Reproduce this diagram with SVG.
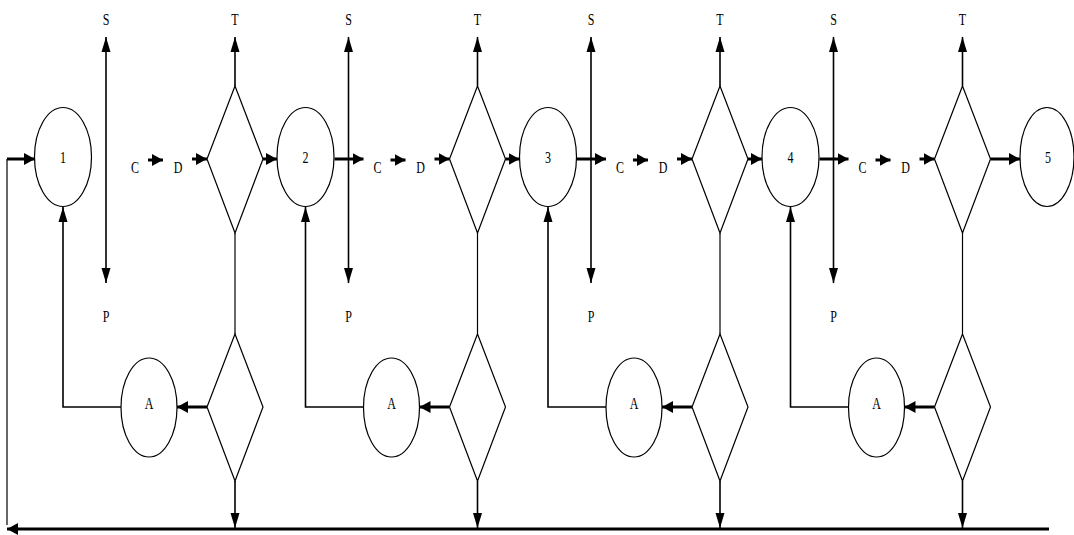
<svg xmlns="http://www.w3.org/2000/svg" width="1074" height="535" viewBox="0 0 1074 535">
<style>
.sh{fill:#fff;stroke:#000;stroke-width:1.2}
.ln{fill:none;stroke:#000;stroke-width:1.2}
.sl{fill:none;stroke:#000;stroke-width:1.6}
.tk{fill:none;stroke:#000;stroke-width:3}
.lb{font-family:"Liberation Serif","Times New Roman",serif;font-size:16px;text-anchor:middle;fill:#000}
</style>
<defs>
<marker id="big" markerUnits="userSpaceOnUse" markerWidth="15" markerHeight="10" refX="15" refY="5" orient="auto-start-reverse"><path d="M0,0.5 L15,5 L0,9.5 z" fill="#000"/></marker>
<marker id="sm" markerUnits="userSpaceOnUse" markerWidth="11" markerHeight="13" refX="11" refY="6.5" orient="auto"><path d="M0,0.5 L11,6.5 L0,12.5 z" fill="#000"/></marker>
</defs>
<rect width="1074" height="535" fill="#fff"/>
<g id="connectors">
<polyline class="ln" points="7,525 7,159"/>
<line class="tk" x1="7" y1="159" x2="35" y2="159" marker-end="url(#sm)"/>
<line class="tk" x1="1049" y1="529" x2="7" y2="529" marker-end="url(#sm)"/>
<line class="sl" x1="106" y1="283" x2="106" y2="37" marker-start="url(#big)" marker-end="url(#big)"/>
<line class="tk" x1="148" y1="160" x2="163" y2="160" marker-end="url(#sm)"/>
<line class="tk" x1="192" y1="159" x2="207" y2="159" marker-end="url(#sm)"/>
<line class="sl" x1="235" y1="86" x2="235" y2="37" marker-end="url(#big)"/>
<line class="ln" x1="235" y1="233" x2="235" y2="334"/>
<line class="tk" x1="207" y1="407" x2="177" y2="407" marker-end="url(#sm)"/>
<polyline class="sl" points="121,407 63,407 63,207" marker-end="url(#big)"/>
<line class="sl" x1="235" y1="481" x2="235" y2="528" marker-end="url(#big)"/>
<line class="tk" x1="263" y1="159" x2="277" y2="159" marker-end="url(#sm)"/>
<line class="tk" x1="334.5" y1="159" x2="363.5" y2="159" marker-end="url(#sm)"/>
<line class="sl" x1="348.5" y1="283" x2="348.5" y2="37" marker-start="url(#big)" marker-end="url(#big)"/>
<line class="tk" x1="390.5" y1="160" x2="405.5" y2="160" marker-end="url(#sm)"/>
<line class="tk" x1="434.5" y1="159" x2="449.5" y2="159" marker-end="url(#sm)"/>
<line class="sl" x1="477.5" y1="86" x2="477.5" y2="37" marker-end="url(#big)"/>
<line class="ln" x1="477.5" y1="233" x2="477.5" y2="334"/>
<line class="tk" x1="449.5" y1="407" x2="419.5" y2="407" marker-end="url(#sm)"/>
<polyline class="sl" points="363.5,407 305.5,407 305.5,207" marker-end="url(#big)"/>
<line class="sl" x1="477.5" y1="481" x2="477.5" y2="528" marker-end="url(#big)"/>
<line class="tk" x1="505.5" y1="159" x2="519.5" y2="159" marker-end="url(#sm)"/>
<line class="tk" x1="577" y1="159" x2="606" y2="159" marker-end="url(#sm)"/>
<line class="sl" x1="591" y1="283" x2="591" y2="37" marker-start="url(#big)" marker-end="url(#big)"/>
<line class="tk" x1="633" y1="160" x2="648" y2="160" marker-end="url(#sm)"/>
<line class="tk" x1="677" y1="159" x2="692" y2="159" marker-end="url(#sm)"/>
<line class="sl" x1="720" y1="86" x2="720" y2="37" marker-end="url(#big)"/>
<line class="ln" x1="720" y1="233" x2="720" y2="334"/>
<line class="tk" x1="692" y1="407" x2="662" y2="407" marker-end="url(#sm)"/>
<polyline class="sl" points="606,407 548,407 548,207" marker-end="url(#big)"/>
<line class="sl" x1="720" y1="481" x2="720" y2="528" marker-end="url(#big)"/>
<line class="tk" x1="748" y1="159" x2="762" y2="159" marker-end="url(#sm)"/>
<line class="tk" x1="819.5" y1="159" x2="848.5" y2="159" marker-end="url(#sm)"/>
<line class="sl" x1="833.5" y1="283" x2="833.5" y2="37" marker-start="url(#big)" marker-end="url(#big)"/>
<line class="tk" x1="875.5" y1="160" x2="890.5" y2="160" marker-end="url(#sm)"/>
<line class="tk" x1="919.5" y1="159" x2="934.5" y2="159" marker-end="url(#sm)"/>
<line class="sl" x1="962.5" y1="86" x2="962.5" y2="37" marker-end="url(#big)"/>
<line class="ln" x1="962.5" y1="233" x2="962.5" y2="334"/>
<line class="tk" x1="934.5" y1="407" x2="904.5" y2="407" marker-end="url(#sm)"/>
<polyline class="sl" points="848.5,407 790.5,407 790.5,207" marker-end="url(#big)"/>
<line class="sl" x1="962.5" y1="481" x2="962.5" y2="528" marker-end="url(#big)"/>
<line class="tk" x1="990.5" y1="159" x2="1020" y2="159" marker-end="url(#sm)"/>
</g>
<g id="n1"><ellipse class="sh" cx="63" cy="157" rx="28.5" ry="49.5"/><text class="lb" transform="translate(63,163) scale(0.75,1)">1</text></g>
<g id="n2"><ellipse class="sh" cx="305.5" cy="157" rx="28.5" ry="49.5"/><text class="lb" transform="translate(305.5,163) scale(0.75,1)">2</text></g>
<g id="n3"><ellipse class="sh" cx="548" cy="157" rx="28.5" ry="49.5"/><text class="lb" transform="translate(548,163) scale(0.75,1)">3</text></g>
<g id="n4"><ellipse class="sh" cx="790.5" cy="157" rx="28.5" ry="49.5"/><text class="lb" transform="translate(790.5,163) scale(0.75,1)">4</text></g>
<g id="n5"><ellipse class="sh" cx="1047" cy="157" rx="27" ry="49.5"/><text class="lb" transform="translate(1048,163) scale(0.75,1)">5</text></g>
<g id="d1"><polygon class="sh" points="235,86 263,159 235,233 207,159"/></g>
<g id="d2"><polygon class="sh" points="477.5,86 505.5,159 477.5,233 449.5,159"/></g>
<g id="d3"><polygon class="sh" points="720,86 748,159 720,233 692,159"/></g>
<g id="d4"><polygon class="sh" points="962.5,86 990.5,159 962.5,233 934.5,159"/></g>
<g id="e1"><polygon class="sh" points="235,334 263,407 235,481 207,407"/></g>
<g id="e2"><polygon class="sh" points="477.5,334 505.5,407 477.5,481 449.5,407"/></g>
<g id="e3"><polygon class="sh" points="720,334 748,407 720,481 692,407"/></g>
<g id="e4"><polygon class="sh" points="962.5,334 990.5,407 962.5,481 934.5,407"/></g>
<g id="a1"><ellipse class="sh" cx="149" cy="407.5" rx="28" ry="49.5"/><text class="lb" transform="translate(149,409) scale(0.75,1)">A</text></g>
<g id="a2"><ellipse class="sh" cx="391.5" cy="407.5" rx="28" ry="49.5"/><text class="lb" transform="translate(391.5,409) scale(0.75,1)">A</text></g>
<g id="a3"><ellipse class="sh" cx="634" cy="407.5" rx="28" ry="49.5"/><text class="lb" transform="translate(634,409) scale(0.75,1)">A</text></g>
<g id="a4"><ellipse class="sh" cx="876.5" cy="407.5" rx="28" ry="49.5"/><text class="lb" transform="translate(876.5,409) scale(0.75,1)">A</text></g>
<g id="labels">
<text class="lb" transform="translate(106,25) scale(0.75,1)">S</text><text class="lb" transform="translate(235,25) scale(0.75,1)">T</text><text class="lb" transform="translate(106,322) scale(0.75,1)">P</text><text class="lb" transform="translate(135,173) scale(0.75,1)">C</text><text class="lb" transform="translate(178,173) scale(0.75,1)">D</text>
<text class="lb" transform="translate(348.5,25) scale(0.75,1)">S</text><text class="lb" transform="translate(477.5,25) scale(0.75,1)">T</text><text class="lb" transform="translate(348.5,322) scale(0.75,1)">P</text><text class="lb" transform="translate(377.5,173) scale(0.75,1)">C</text><text class="lb" transform="translate(420.5,173) scale(0.75,1)">D</text>
<text class="lb" transform="translate(591,25) scale(0.75,1)">S</text><text class="lb" transform="translate(720,25) scale(0.75,1)">T</text><text class="lb" transform="translate(591,322) scale(0.75,1)">P</text><text class="lb" transform="translate(620,173) scale(0.75,1)">C</text><text class="lb" transform="translate(663,173) scale(0.75,1)">D</text>
<text class="lb" transform="translate(833.5,25) scale(0.75,1)">S</text><text class="lb" transform="translate(962.5,25) scale(0.75,1)">T</text><text class="lb" transform="translate(833.5,322) scale(0.75,1)">P</text><text class="lb" transform="translate(862.5,173) scale(0.75,1)">C</text><text class="lb" transform="translate(905.5,173) scale(0.75,1)">D</text>
</g>
</svg>
